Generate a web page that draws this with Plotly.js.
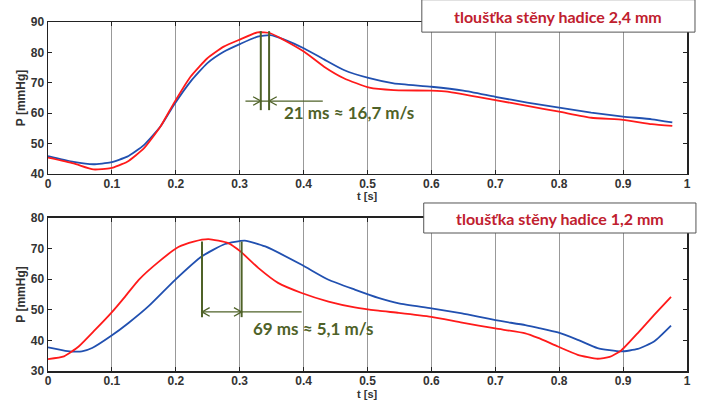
<!DOCTYPE html>
<html><head><meta charset="utf-8">
<script src="https://cdn.plot.ly/plotly-3.0.1.min.js"></script>
<style>html,body{margin:0;padding:0;background:#fff}#chart{width:702px;height:401px}</style>
</head><body><div id="chart"></div>
<script>
// Top panel (2,4 mm)
const tTopBlue = [0,0.04,0.071,0.098,0.124,0.15,0.176,0.197,0.223,0.249,0.275,0.301,0.328,0.348,0.369,0.401,0.432,0.463,0.503,0.541,0.6,0.65,0.7,0.75,0.8,0.85,0.9,0.945,0.977];
const pTopBlue = [45.9,44.0,43.2,43.8,45.7,49.5,55.6,62.7,70.4,76.4,80.2,82.8,85.2,85.7,84.3,81.3,77.7,74.2,71.5,69.8,68.7,67.4,65.4,63.5,61.8,60.2,58.9,58.0,57.0];
const tTopRed = [0,0.04,0.071,0.098,0.124,0.15,0.176,0.197,0.223,0.249,0.275,0.301,0.328,0.348,0.369,0.401,0.432,0.463,0.503,0.541,0.6,0.625,0.7,0.75,0.8,0.85,0.9,0.945,0.977];
const pTopRed = [45.4,43.5,41.5,41.9,44.0,48.4,55.6,63.3,72.0,78.0,81.9,84.3,86.6,86.3,84.1,80.2,75.3,71.5,68.4,67.6,67.4,67.1,64.3,62.4,60.5,58.5,57.8,56.4,55.8];
// Bottom panel (1,2 mm)
const tBotBlue = [0,0.027,0.053,0.069,0.099,0.126,0.157,0.199,0.241,0.277,0.308,0.34,0.397,0.439,0.48,0.517,0.549,0.6,0.648,0.7,0.747,0.767,0.798,0.829,0.86,0.897,0.923,0.949,0.975];
const pBotBlue = [37.7,36.6,36.4,37.5,41.5,45.7,51.1,59.8,67.5,71.5,72.6,70.7,64.7,59.8,56.6,53.9,52.1,50.5,48.8,46.6,45.0,44.1,42.6,40.2,37.5,36.4,37.2,39.7,44.8];
const tBotRed = [0,0.025,0.048,0.074,0.099,0.121,0.142,0.175,0.204,0.228,0.251,0.282,0.301,0.329,0.36,0.397,0.439,0.48,0.517,0.549,0.6,0.648,0.7,0.747,0.767,0.798,0.829,0.86,0.879,0.897,0.923,0.949,0.975];
const pBotRed = [33.9,34.8,38.0,43.5,49.0,54.4,59.8,66.0,70.5,72.3,73.1,71.8,69.1,63.7,58.8,55.5,52.7,50.8,49.7,49.0,47.7,45.8,43.9,42.3,40.8,38.0,35.3,34.0,34.6,36.7,42.4,48.4,54.2];

const titles = ["tloušťka stěny hadice 2,4 mm", "tloušťka stěny hadice 1,2 mm"];
const measTexts = ["21 ms ≈ 16,7 m/s", "69 ms ≈ 5,1 m/s"];
const xTitle = "t [s]", yTitle = "P [mmHg]";
// measurement markers: [x1, x2, yTop, yBottom, yArrow, xLineStart, xLineEnd]
const measTop = [0.333, 0.346, 87, 61, 64, 0.309, 0.43];
const measBot = [0.241, 0.303, 72.3, 47.6, 49.3, 0.241, 0.397];

const BLUE = '#2150b0', RED = '#ff1a1a', GREEN = '#4f6228', TITLE_RED = '#c0202e';
const lineStyle = c => ({color:c, width:1.8, shape:'spline', smoothing:0.5});

const traces = [
  {x:tTopBlue, y:pTopBlue, xaxis:'x', yaxis:'y', mode:'lines', line:lineStyle(BLUE)},
  {x:tTopRed, y:pTopRed, xaxis:'x', yaxis:'y', mode:'lines', line:lineStyle(RED)},
  {x:tBotBlue, y:pBotBlue, xaxis:'x2', yaxis:'y2', mode:'lines', line:lineStyle(BLUE)},
  {x:tBotRed, y:pBotRed, xaxis:'x2', yaxis:'y2', mode:'lines', line:lineStyle(RED)}
];

const tickfont = {family:'Liberation Sans, Arial, sans-serif', size:12, color:'#333', weight:'bold'};
const titlefont = {family:'Liberation Sans, Arial, sans-serif', size:12, color:'#333', weight:'bold'};
const xtitlefont = {family:'Liberation Sans, Arial, sans-serif', size:11, color:'#333', weight:'bold'};
function xax(anchor){return {anchor:anchor, range:[0,1], dtick:0.1, tick0:0, showgrid:true, gridcolor:'#999', gridwidth:1,
  showline:true, linecolor:'#222', linewidth:1.5, mirror:'ticks', ticks:'inside', ticklen:4, tickcolor:'#222',
  tickfont:tickfont, zeroline:false, ticklabelstandoff:-2};}
function yax(anchor, range, domain){return {anchor:anchor, range:range, dtick:10, domain:domain, showgrid:false,
  showline:true, linecolor:'#222', linewidth:1.5, mirror:'ticks', ticks:'inside', ticklen:4, tickcolor:'#222',
  tickfont:tickfont, zeroline:false, title:{text:yTitle, font:titlefont, standoff:2}};}

const shapes = [];
const annotations = [];
function addMeas(m, xr, yr, outward, dx, dy){
  const [x1,x2,yt,yb,ya,xs,xe] = m;
  shapes.push({type:'line', xref:xr, yref:yr, x0:x1, x1:x1, y0:yb, y1:yt, line:{color:GREEN,width:2}});
  shapes.push({type:'line', xref:xr, yref:yr, x0:x2, x1:x2, y0:yb, y1:yt, line:{color:GREEN,width:2}});
  shapes.push({type:'line', xref:xr, yref:yr, x0:xs, x1:xe, y0:ya, y1:ya, line:{color:GREEN,width:1.3}});
  const s = outward ? -1 : 1;
  const p1 = `M ${x1 - s*dx} ${ya+dy} L ${x1} ${ya} L ${x1 - s*dx} ${ya-dy}`;
  const p2 = `M ${x2 + s*dx} ${ya+dy} L ${x2} ${ya} L ${x2 + s*dx} ${ya-dy}`;
  shapes.push({type:'path', xref:xr, yref:yr, path:p1, line:{color:GREEN,width:1.3}});
  shapes.push({type:'path', xref:xr, yref:yr, path:p2, line:{color:GREEN,width:1.3}});
}
addMeas(measTop, 'x', 'y', false, 0.012, 1.4);
addMeas(measBot, 'x2', 'y2', true, 0.012, 1.4);

const greenFont = {family:'Lato, Open Sans, sans-serif', size:17, color:GREEN, weight:'bold'};
annotations.push({xref:'x', yref:'y', x:0.366, y:60.2, xanchor:'left', yanchor:'middle', text:measTexts[0], showarrow:false, font:greenFont});
annotations.push({xref:'x2', yref:'y2', x:0.318, y:44, xanchor:'left', yanchor:'middle', text:measTexts[1], showarrow:false, font:greenFont});

// x-axis titles placed just under the tick labels
annotations.push({xref:'paper', yref:'paper', x:0.5, y:0.5215, xanchor:'center', yanchor:'top', text:xTitle, showarrow:false, font:xtitlefont, borderpad:0});
annotations.push({xref:'paper', yref:'paper', x:0.5, y:-0.0855, xanchor:'center', yanchor:'bottom', text:xTitle, showarrow:false, font:xtitlefont, borderpad:0});

const boxFont = {family:'Lato, Open Sans, sans-serif', size:16, color:TITLE_RED, weight:'bold'};
shapes.push({type:'rect', xref:'paper', yref:'paper', x0:0.585, x1:1.0125, y0:0.971, y1:1.064, fillcolor:'#fff', line:{color:'#555',width:1}, layer:'above'});
shapes.push({type:'rect', xref:'paper', yref:'paper', x0:0.588, x1:1.014, y0:0.3954, y1:0.4814, fillcolor:'#fff', line:{color:'#555',width:1}, layer:'above'});
annotations.push({xref:'paper', yref:'paper', x:0.7985, y:1.0165, xanchor:'center', yanchor:'middle', text:titles[0], showarrow:false, font:boxFont});
annotations.push({xref:'paper', yref:'paper', x:0.801, y:0.438, xanchor:'center', yanchor:'middle', text:titles[1], showarrow:false, font:boxFont});

const layout = {
  width:702, height:401, margin:{l:48, r:15, t:22, b:30},
  paper_bgcolor:'#fff', plot_bgcolor:'#fff', showlegend:false,
  xaxis: Object.assign(xax('y'), {domain:[0,1]}),
  yaxis: yax('x', [40,90], [0.5645,1]),
  xaxis2: Object.assign(xax('y2'), {domain:[0,1]}),
  yaxis2: yax('x2', [30,80], [0,0.4384]),
  shapes: shapes, annotations: annotations
};
Plotly.newPlot('chart', traces, layout, {displayModeBar:false, staticPlot:true});
</script></body></html>
